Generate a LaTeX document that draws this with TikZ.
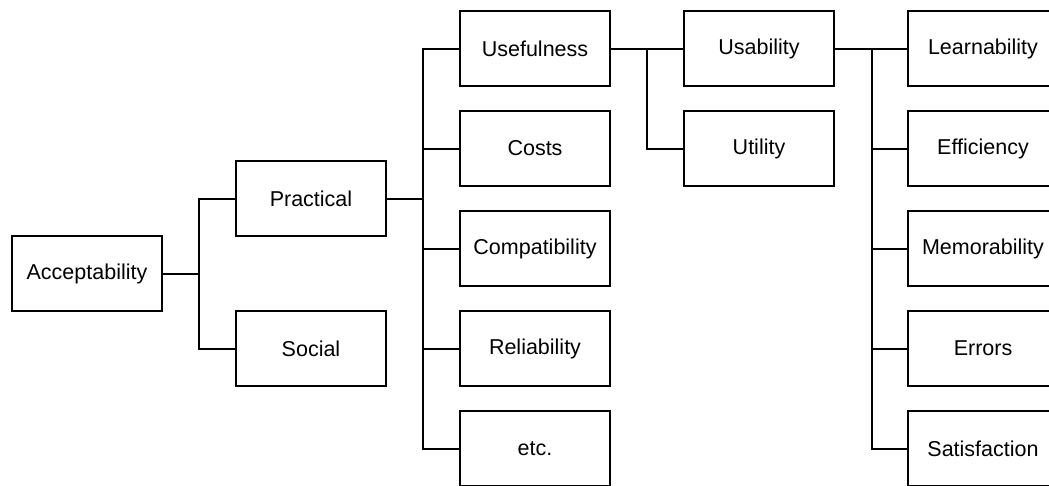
\documentclass[tikz,border=0pt]{standalone}
\usepackage{fontspec}
\setmainfont{Liberation Sans}
\begin{document}
\begin{tikzpicture}[x=1pt,y=-1pt,
  box/.style={draw=black,line width=2pt,minimum width=150pt,minimum height=75pt,inner sep=0pt,font=\fontsize{21.5}{26}\selectfont},
  conn/.style={line width=2pt}]
\useasboundingbox (0,0) rectangle (1049,485);
\begin{scope}
\clip (0,0) rectangle (1049,485);
\node[box] (acc) at (87,273.5) {Acceptability};
\node[box] (prac) at (311,198.5) {Practical};
\node[box] (soc) at (311,348.5) {Social};
\node[box] (usef) at (535,48.5) {Usefulness};
\node[box] (cost) at (535,148.5) {Costs};
\node[box] (comp) at (535,248.5) {Compatibility};
\node[box] (rel) at (535,348.5) {Reliability};
\node[box] (etc) at (535,448.5) {etc.};
\node[box] (usab) at (759,48.5) {Usability};
\node[box] (util) at (759,148.5) {Utility};
\node[box] (learn) at (983,48.5) {Learnability};
\node[box] (eff) at (983,148.5) {Efficiency};
\node[box] (mem) at (983,248.5) {Memorability};
\node[box] (err) at (983,348.5) {Errors};
\node[box] (sat) at (983,448.5) {Satisfaction};
\coordinate (j1) at (199,273.5);
\coordinate (j2) at (423,198.5);
\coordinate (j3) at (647,48.5);
\coordinate (j4) at (872,48.5);
\draw[conn] (acc.east) -- (j1);
\draw[conn] (j1) |- (prac.west);
\draw[conn] (j1) |- (soc.west);
\draw[conn] (prac.east) -- (j2);
\foreach \n in {usef,cost,comp,rel,etc}{\draw[conn] (j2) |- (\n.west);}
\draw[conn] (usef.east) -- (usab.west);
\draw[conn] (j3) |- (util.west);
\draw[conn] (usab.east) -- (learn.west);
\foreach \n in {eff,mem,err,sat}{\draw[conn] (j4) |- (\n.west);}
\end{scope}
\end{tikzpicture}
\end{document}
